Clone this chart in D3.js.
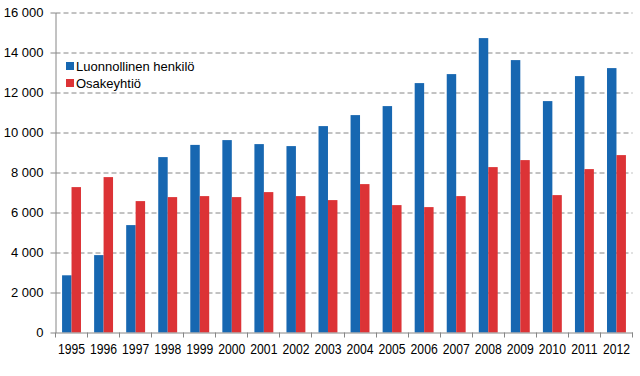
<!DOCTYPE html>
<html>
<head>
<meta charset="utf-8">
<script src="https://cdn.jsdelivr.net/npm/d3@7"></script>
<style>
  body { margin: 0; background: #fff; }
  svg { display: block; font-family: "Liberation Sans", Arial, sans-serif; }
</style>
</head>
<body>
<div class="chart"></div>
<script>
var years = ["1995","1996","1997","1998","1999","2000","2001","2002","2003","2004","2005","2006","2007","2008","2009","2010","2011","2012"];
var luonnollinen = [2860, 3870, 5370, 8770, 9380, 9620, 9420, 9320, 10320, 10870, 11320, 12470, 12920, 14720, 13620, 11570, 12820, 13220];
var osakeyhtio = [7270, 7770, 6570, 6770, 6820, 6770, 7020, 6820, 6620, 7420, 6370, 6270, 6820, 8270, 8620, 6870, 8170, 8870];
var seriesNames = ["Luonnollinen henkilö", "Osakeyhtiö"];
var yTicks = [0, 2000, 4000, 6000, 8000, 10000, 12000, 14000, 16000];

function drawChart() {
    var w = 640, h = 376;
    var padLeft = 55.5, padRight = 632.5, padTop = 12.5, padBottom = 332.5;
    var colors = ["#1767b1", "#dc3336"];
    var axisColor = "#868686";

    var svg = d3.select(".chart").append("svg")
        .attr("width", w)
        .attr("height", h);

    var x = d3.scaleBand()
        .domain(years)
        .range([padLeft, padRight])
        .paddingInner(0.41)
        .paddingOuter(0.205);

    var xInner = d3.scaleBand()
        .domain([0, 1])
        .range([0, x.bandwidth()]);

    var y = d3.scaleLinear()
        .domain([0, 16000])
        .range([padBottom, padTop]);

    var fmt = function(d) { return d3.format(",")(d).replace(/,/g, " "); };

    // dashed gridlines
    svg.append("g")
        .attr("transform", `translate(${padLeft},0)`)
        .call(d3.axisLeft(y).tickValues(yTicks.slice(1)).tickSize(-(padRight - padLeft)).tickFormat(""))
        .call(g => g.select(".domain").remove())
        .selectAll("line")
        .attr("stroke", axisColor)
        .attr("stroke-dasharray", "5,3");

    // bars
    var groups = svg.append("g").selectAll("g")
        .data(years)
        .join("g")
        .attr("transform", d => `translate(${x(d)},0)`);

    [luonnollinen, osakeyhtio].forEach(function(vals, s) {
        groups.append("rect")
            .attr("x", xInner(s))
            .attr("width", xInner.bandwidth())
            .attr("y", (d, i) => y(vals[i]))
            .attr("height", (d, i) => y(0) - y(vals[i]))
            .attr("fill", colors[s]);
    });

    // y axis
    var yAxis = svg.append("g")
        .attr("transform", `translate(${padLeft},0)`)
        .call(d3.axisLeft(y).tickValues(yTicks).tickSize(5).tickPadding(7).tickFormat(fmt).tickSizeOuter(0));
    yAxis.selectAll("line, path").attr("stroke", axisColor);
    yAxis.selectAll("text").attr("font-size", 13).attr("fill", "#000").attr("font-family", "Liberation Sans, Arial, sans-serif");

    // x axis (labels at band centres, ticks at band boundaries)
    var xAxis = svg.append("g")
        .attr("transform", `translate(0,${padBottom})`)
        .call(d3.axisBottom(x).tickSize(0).tickPadding(12).tickSizeOuter(0));
    xAxis.select(".domain").attr("stroke", axisColor);
    xAxis.selectAll("text")
        .attr("font-size", 14)
        .attr("transform", "scale(0.87,1)")
        .attr("fill", "#000")
        .attr("font-family", "Liberation Sans, Arial, sans-serif");

    var bounds = years.map(d => x(d) - (x.step() - x.bandwidth()) / 2).concat([padRight]);
    svg.append("g").selectAll("line")
        .data(bounds)
        .join("line")
        .attr("x1", d => Math.round(d - 0.5) + 0.5)
        .attr("x2", d => Math.round(d - 0.5) + 0.5)
        .attr("y1", padBottom)
        .attr("y2", padBottom + 5)
        .attr("stroke", axisColor);

    // legend
    var legend = svg.append("g")
        .attr("transform", "translate(66,62)")
        .selectAll("g")
        .data(seriesNames)
        .join("g")
        .attr("transform", (d, i) => `translate(0,${i * 17})`);

    legend.append("rect")
        .attr("width", 8)
        .attr("height", 8)
        .attr("fill", (d, i) => colors[i]);

    legend.append("text")
        .attr("x", 10)
        .attr("y", 8.5)
        .attr("font-size", 13)
        .attr("fill", "#000")
        .text(d => d);
}

drawChart();
</script>
</body>
</html>
